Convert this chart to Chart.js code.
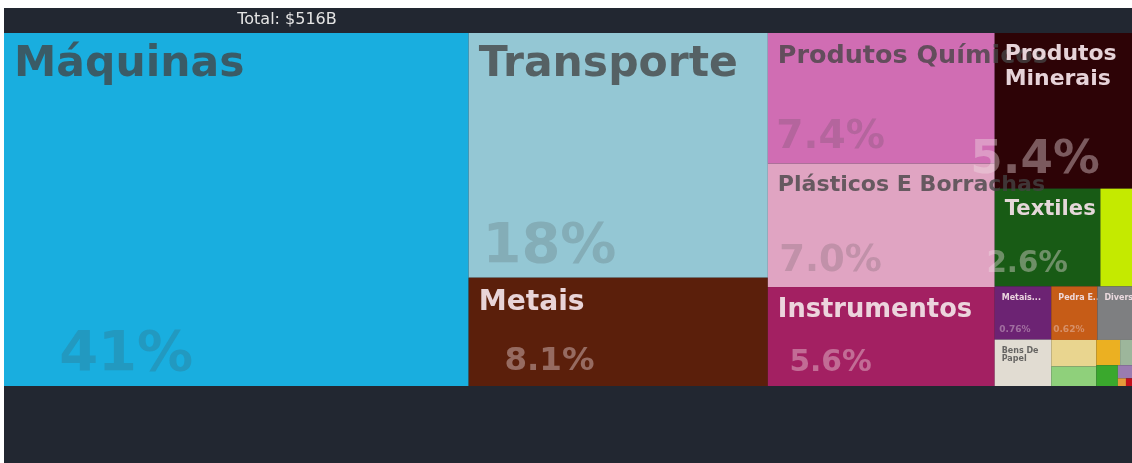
<!DOCTYPE html>
<html>
<head>
<meta charset="utf-8">
<script src="https://cdn.jsdelivr.net/npm/chart.js@4.4.0/dist/chart.umd.min.js"></script>
<style>
    html, body { margin: 0; padding: 0; background: #fff; }
    #wrap { position: absolute; left: 4px; top: 8px; width: 1128px; height: 455px; background: #222731; }
</style>
</head>
<body>
<div id="wrap"><canvas id="treeChart"></canvas></div>
<script>
// Product groups, in drawing order
const categories = [
    "Máquinas", "Transporte", "Metais", "Produtos Químicos", "Plásticos E Borrachas",
    "Instrumentos", "Produtos Minerais", "Textiles", "Calçados E Chapéus", "Metais Preciosos",
    "Bens De Papel", "Pedra E Vidro", "Diversos", "Produtos De Madeira", "Produtos Vegetais",
    "Gêneros Alimentícios", "Peles De Animais", "Produtos Animais", "Armas", "Gorduras E Óleos",
    "Arte E Antiguidades"
];
// Trade value, US$ billions
const values = [
    212.6, 94.9, 42.0, 38.4, 36.3,
    29.1, 27.7, 13.4, 4.0, 3.9,
    3.4, 3.2, 2.4, 1.55, 1.14,
    0.78, 0.39, 0.58, 0.24, 0.08,
    0.06
];
const colors = [
    "#19aedf", "#94c7d4", "#5b1f0b", "#d06db3", "#e0a4c2",
    "#a32062", "#2d0306", "#185b15", "#c4ea00", "#6c2373",
    "#e1dcd2", "#c65c17", "#7e7f81", "#e9d58f", "#8fd07b",
    "#ebb022", "#9db69b", "#3aa82d", "#9a7cb0", "#e69a3a",
    "#c2101b"
];

const total = values.reduce((s, v) => s + v, 0);
const FONT = '"DejaVu Sans", sans-serif';

// squarified layout (same idea as d3 treemapSquarify), keeps data order
function squarify(items, x0, y0, x1, y1) {
    const ratio = (1 + Math.sqrt(5)) / 2;
    let value = items.reduce((s, d) => s + d.value, 0);
    let i0 = 0, i1 = 0;
    const n = items.length;
    while (i0 < n) {
        const dx = x1 - x0, dy = y1 - y0;
        let sumValue = items[i1++].value;
        let minValue = sumValue, maxValue = sumValue;
        const alpha = Math.max(dy / dx, dx / dy) / (value * ratio);
        let beta = sumValue * sumValue * alpha;
        let minRatio = Math.max(maxValue / beta, beta / minValue);
        for (; i1 < n; ++i1) {
            const v = items[i1].value;
            sumValue += v;
            if (v < minValue) minValue = v;
            if (v > maxValue) maxValue = v;
            beta = sumValue * sumValue * alpha;
            const newRatio = Math.max(maxValue / beta, beta / minValue);
            if (newRatio > minRatio) { sumValue -= v; break; }
            minRatio = newRatio;
        }
        const row = items.slice(i0, i1);
        if (dx < dy) {
            const h = i1 >= n ? dy : dy * sumValue / value;
            let x = x0;
            row.forEach(d => {
                const w = dx * d.value / sumValue;
                d.x0 = x; d.x1 = x + w; d.y0 = y0; d.y1 = y0 + h;
                x += w;
            });
            y0 += h;
        } else {
            const w = i1 >= n ? dx : dx * sumValue / value;
            let y = y0;
            row.forEach(d => {
                const h = dy * d.value / sumValue;
                d.x0 = x0; d.x1 = x0 + w; d.y0 = y; d.y1 = y + h;
                y += h;
            });
            x0 += w;
        }
        value -= sumValue;
        i0 = i1;
    }
    return items;
}

function isDark(hex) {
    const r = parseInt(hex.slice(1, 3), 16), g = parseInt(hex.slice(3, 5), 16), b = parseInt(hex.slice(5, 7), 16);
    return 0.299 * r + 0.587 * g + 0.114 * b < 128;
}

const treemapPlugin = {
    id: "treemap",
    afterDatasetsDraw(chart) {
        const {ctx, chartArea, scales} = chart;
        const ar = chartArea.width / chartArea.height;
        const cells = categories.map((name, i) => ({name: name, value: values[i], color: colors[i]}));
        squarify(cells, 0, 0, 100 * ar, 100);

        // value space -> pixels through the chart scales
        cells.forEach(c => {
            c.left = scales.x.getPixelForValue(c.x0 / ar);
            c.right = scales.x.getPixelForValue(c.x1 / ar);
            c.top = scales.y.getPixelForValue(c.y0);
            c.bottom = scales.y.getPixelForValue(c.y1);
        });

        ctx.save();
        cells.forEach(c => {
            ctx.fillStyle = c.color;
            ctx.fillRect(c.left, c.top, c.right - c.left, c.bottom - c.top);
        });

        // title
        ctx.font = "16px " + FONT;
        ctx.fillStyle = "#e4e4e4";
        ctx.textAlign = "center";
        ctx.textBaseline = "alphabetic";
        ctx.fillText("Total: $" + Math.round(total) + "B", chartArea.left + chartArea.width * 0.25 + 1, chartArea.top - 9);

        // labels
        cells.forEach(c => {
            const w = c.right - c.left, h = c.bottom - c.top;
            if (w < 34 || h < 40) return;
            const dark = isDark(c.color);
            const ink = dark ? "240,222,228" : "68,68,68";
            const small = w < 80;
            const pad = small ? 7 : 10;
            const showPct = !small || (w >= 40 && h >= 50);
            const pct = (c.value / total * 100).toPrecision(2) + "%";

            ctx.save();
            if (small) {
                ctx.beginPath();
                ctx.rect(c.left, c.top, w, h);
                ctx.clip();
            }
            let fs, lines;
            const words = c.name.split(" ");
            if (small) {
                fs = 8;
                ctx.font = "bold " + fs + "px " + FONT;
                if (showPct) {
                    let text = words[0];
                    for (let k = 1; k <= words.length; k++) {
                        const full = words.slice(0, k).join(" ");
                        const cand = k === words.length ? full : full + "...";
                        if (ctx.measureText(cand).width <= w * 1.1) text = cand;
                    }
                    lines = [text];
                } else {
                    lines = [];
                    let line = "";
                    words.forEach(wd => {
                        const test = line ? line + " " + wd : wd;
                        if (line && ctx.measureText(test).width > w - pad) {
                            lines.push(line);
                            line = wd;
                        } else {
                            line = test;
                        }
                    });
                    if (line) lines.push(line);
                }
            } else {
                fs = Math.min(42.5, h * 0.26, w * 0.2);
                ctx.font = "bold " + fs + "px " + FONT;
                if (w < 150 && ctx.measureText(c.name).width > w * 1.26) {
                    lines = words;
                    const widest = () => Math.max(...lines.map(l => ctx.measureText(l).width));
                    while (widest() > w * 0.83 && fs > 8) {
                        fs -= 0.5;
                        ctx.font = "bold " + fs + "px " + FONT;
                    }
                } else {
                    while (ctx.measureText(c.name).width > w * 1.2 && fs > 8) {
                        fs -= 0.5;
                        ctx.font = "bold " + fs + "px " + FONT;
                    }
                    lines = [c.name];
                }
            }
            ctx.textAlign = "left";
            ctx.textBaseline = "alphabetic";
            ctx.fillStyle = "rgba(" + ink + "," + (dark ? 0.95 : 0.78) + ")";
            const lh = small ? fs * 1.05 : fs * 1.15;
            lines.forEach((ln, k) => {
                ctx.fillText(ln, c.left + pad, c.top + pad + fs * 0.78 + k * lh);
            });

            if (showPct) {
                const pfs = small ? 9 : Math.min(56, h * 0.3, w * 0.36);
                ctx.font = "bold " + pfs + "px " + FONT;
                ctx.textAlign = "center";
                ctx.fillStyle = "rgba(" + ink + "," + (dark ? 0.4 : 0.2) + ")";
                ctx.fillText(pct, c.left + w * 0.25 + 6, c.bottom - Math.min(16, h * 0.15));
            }
            ctx.restore();
        });
        ctx.restore();
    }
};

const chart = new Chart(document.getElementById("treeChart"), {
    type: "scatter",
    data: {
        datasets: [{label: "Exportações", data: []}]
    },
    options: {
        responsive: true,
        maintainAspectRatio: false,
        animation: false,
        layout: {padding: {top: 25, bottom: 77, left: 0, right: 0}},
        scales: {
            x: {type: "linear", min: 0, max: 100, display: false},
            y: {type: "linear", min: 0, max: 100, reverse: true, display: false}
        },
        plugins: {
            legend: {display: false},
            tooltip: {enabled: false}
        }
    },
    plugins: [treemapPlugin]
});
</script>
</body>
</html>
